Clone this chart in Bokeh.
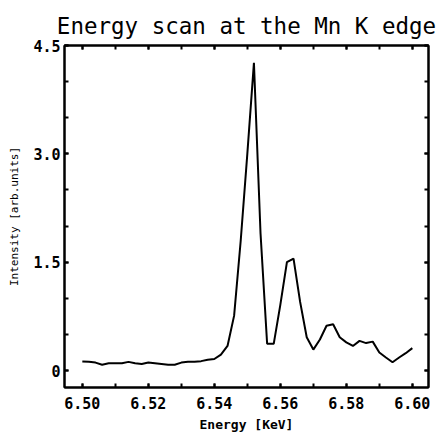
from bokeh.plotting import figure
from bokeh.models import FixedTicker, LinearAxis, Range1d
from bokeh.embed import file_html
from bokeh.resources import INLINE

# Data (energy in keV, intensity in arb. units)
energy = [6.500, 6.502, 6.504, 6.506, 6.508, 6.510, 6.512, 6.514, 6.516, 6.518,
          6.520, 6.522, 6.524, 6.526, 6.528, 6.530, 6.532, 6.534, 6.536, 6.538,
          6.540, 6.542, 6.544, 6.546, 6.548, 6.550, 6.552, 6.554, 6.556, 6.558,
          6.560, 6.562, 6.564, 6.566, 6.568, 6.570, 6.572, 6.574, 6.576, 6.578,
          6.580, 6.582, 6.584, 6.586, 6.588, 6.590, 6.592, 6.594, 6.596, 6.598,
          6.600]
intensity = [0.125, 0.12, 0.11, 0.08, 0.10, 0.10, 0.10, 0.12, 0.10, 0.09,
             0.11, 0.10, 0.09, 0.08, 0.08, 0.11, 0.12, 0.12, 0.13, 0.15,
             0.16, 0.22, 0.34, 0.76, 1.80, 3.00, 4.26, 1.90, 0.37, 0.37,
             0.91, 1.50, 1.55, 0.95, 0.46, 0.29, 0.43, 0.62, 0.64, 0.46,
             0.39, 0.34, 0.41, 0.38, 0.40, 0.25, 0.18, 0.115, 0.18, 0.24,
             0.31]

x_major = [6.50, 6.52, 6.54, 6.56, 6.58, 6.60]
x_minor = [6.50, 6.51, 6.52, 6.53, 6.54, 6.55, 6.56, 6.57, 6.58, 6.59, 6.60]
x_labels = ["6.50", "6.52", "6.54", "6.56", "6.58", "6.60"]
y_major = [0, 1.5, 3.0, 4.5]
y_minor = [0, 0.5, 1.0, 1.5, 2.0, 2.5, 3.0, 3.5, 4.0, 4.5]
y_labels = ["0", "1.5", "3.0", "4.5"]

title_text = "Energy scan at the Mn K edge"
x_title = "Energy [KeV]"
y_title = "Intensity [arb.units]"

MONO = "DejaVu Sans Mono"

p = figure(width=439, height=438,
           x_range=Range1d(6.4946, 6.6049), y_range=Range1d(-0.235, 4.5),
           output_backend="svg", toolbar_location=None,
           min_border_left=64, min_border_right=11,
           min_border_top=45, min_border_bottom=51)

p.title.text = title_text
p.title.text_font = MONO
p.title.text_font_size = "22.5px"
p.title.text_font_style = "normal"
p.title.align = "center"
p.title.vertical_align = "top"
p.title.text_color = "black"
p.title.offset = 0
p.title.standoff = 10

p.line(energy, intensity, line_color="black", line_width=2)

p.xgrid.visible = False
p.ygrid.visible = False
p.outline_line_color = "black"
p.outline_line_width = 2
p.background_fill_color = "white"
p.border_fill_color = "white"

xt = FixedTicker(ticks=x_major, minor_ticks=x_minor)
yt = FixedTicker(ticks=y_major, minor_ticks=y_minor)

def style_axis(ax, show_labels):
    ax.axis_line_color = "black"
    ax.axis_line_width = 2
    ax.major_tick_in = 4
    ax.major_tick_out = 0
    ax.minor_tick_in = 4
    ax.minor_tick_out = 0
    ax.major_tick_line_width = 2
    ax.minor_tick_line_width = 2
    ax.major_tick_line_color = "black"
    ax.minor_tick_line_color = "black"
    if show_labels:
        ax.major_label_text_font = MONO
        ax.major_label_text_font_size = "15px"
        ax.major_label_text_font_style = "bold"
        ax.major_label_text_color = "black"
    else:
        ax.major_label_text_font_size = "1px"
        ax.major_label_text_alpha = 0
        ax.major_label_standoff = 0

xa = p.xaxis[0]
xa.ticker = xt
xa.major_label_overrides = {v: s for v, s in zip(x_major, x_labels)}
style_axis(xa, True)
xa.major_label_standoff = 9
xa.axis_label = x_title
xa.axis_label_text_font = MONO
xa.axis_label_text_font_size = "13px"
xa.axis_label_text_font_style = "bold"
xa.axis_label_text_color = "black"
xa.axis_label_standoff = 5

ya = p.yaxis[0]
ya.ticker = yt
ya.major_label_overrides = {v: s for v, s in zip(y_major, y_labels)}
style_axis(ya, True)
ya.major_label_standoff = 4
ya.major_label_orientation = "horizontal"
ya.axis_label = y_title
ya.axis_label_text_font = MONO
ya.axis_label_text_font_size = "11px"
ya.axis_label_text_font_style = "normal"
ya.axis_label_text_color = "black"
ya.axis_label_standoff = 9

top = LinearAxis(ticker=FixedTicker(ticks=x_major, minor_ticks=x_minor))
top.major_label_overrides = {v: "" for v in x_major}
style_axis(top, False)
p.add_layout(top, "above")

right = LinearAxis(ticker=FixedTicker(ticks=y_major, minor_ticks=y_minor))
right.major_label_overrides = {v: "" for v in y_major}
style_axis(right, False)
p.add_layout(right, "right")

open("out.html", "w").write(file_html(p, INLINE))
